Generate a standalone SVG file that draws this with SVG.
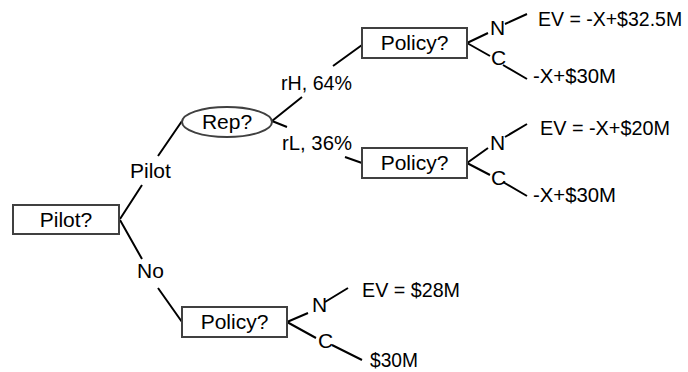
<svg xmlns="http://www.w3.org/2000/svg" width="688" height="372" viewBox="0 0 688 372">
  <style>
    .box { fill: #ffffff; stroke: #404040; stroke-width: 2; }
    .edge { stroke: #000000; stroke-width: 2; fill: none; stroke-linecap: butt; }
    text { font-family: "Liberation Sans", Arial, sans-serif; font-size: 21px; fill: #000000; }
    .mid { text-anchor: middle; }
    .tight { font-size: 19.5px; }
  </style>
  <rect width="688" height="372" fill="#ffffff"/>

  <!-- connectors (split around their labels) -->
  <g id="connectors">
    <path class="edge" d="M120,219 L142,185 M158,156 L182,121"/>
    <path class="edge" d="M120,220 L142,259 M158,288 L182,322"/>
    <path class="edge" d="M272,121 L302,97 M333,66 L362,45"/>
    <path class="edge" d="M272,121 L287,127 M345,157 L362,163"/>
    <path class="edge" d="M467,43 L488,33 M505,24 L527,14"/>
    <path class="edge" d="M467,43 L490,56 M503,65 L527,79"/>
    <path class="edge" d="M467,163 L488,148 M505,137 L527,124"/>
    <path class="edge" d="M467,163 L490,175 M503,182 L527,196"/>
    <path class="edge" d="M287,322 L308,313 M325,302 L348,288"/>
    <path class="edge" d="M287,322 L316,338 M332,345 L362,360"/>
    <text x="130" y="178">Pilot</text>
    <text x="137" y="278">No</text>
    <text x="281" y="90" textLength="71" lengthAdjust="spacingAndGlyphs">rH, 64%</text>
    <text x="282" y="150" textLength="70" lengthAdjust="spacingAndGlyphs">rL, 36%</text>
    <text x="490" y="35">N</text>
    <text x="491" y="65">C</text>
    <text x="490" y="150">N</text>
    <text x="491" y="185">C</text>
    <text x="312" y="312">N</text>
    <text x="318" y="348">C</text>
  </g>

  <!-- decision and chance nodes -->
  <g id="node-pilot">
    <rect class="box" x="13" y="205" width="106" height="29"/>
    <text class="mid" x="66" y="227">Pilot?</text>
  </g>
  <g id="node-rep">
    <ellipse class="box" cx="227" cy="122" rx="45" ry="15"/>
    <text class="mid" x="227" y="129">Rep?</text>
  </g>
  <g id="node-policy-high">
    <rect class="box" x="362" y="28" width="105" height="30"/>
    <text class="mid" x="414.5" y="50">Policy?</text>
  </g>
  <g id="node-policy-low">
    <rect class="box" x="362" y="148" width="105" height="30"/>
    <text class="mid" x="414.5" y="170">Policy?</text>
  </g>
  <g id="node-policy-nopilot">
    <rect class="box" x="182" y="307" width="105" height="30"/>
    <text class="mid" x="234.5" y="329">Policy?</text>
  </g>

  <!-- payoffs -->
  <g id="payoffs">
    <text class="tight" x="538" y="26">EV = -X+$32.5M</text>
    <text x="533" y="83" textLength="83" lengthAdjust="spacingAndGlyphs">-X+$30M</text>
    <text x="540" y="135" textLength="130" lengthAdjust="spacingAndGlyphs">EV = -X+$20M</text>
    <text x="533" y="202" textLength="83" lengthAdjust="spacingAndGlyphs">-X+$30M</text>
    <text x="362" y="297" textLength="98" lengthAdjust="spacingAndGlyphs">EV = $28M</text>
    <text x="370" y="367" textLength="48" lengthAdjust="spacingAndGlyphs">$30M</text>
  </g>
</svg>
